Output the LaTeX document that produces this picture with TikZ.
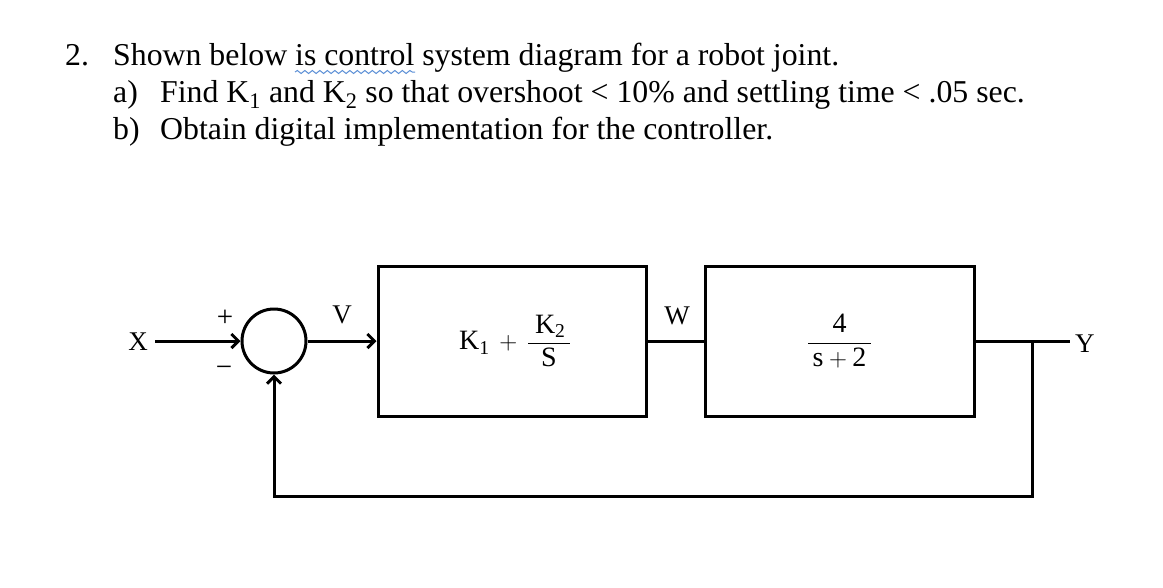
\documentclass[tikz,border=0pt]{standalone}
\usepackage{amsmath}
\usepackage{fontspec}
\setmainfont{Liberation Serif}
\usetikzlibrary{arrows.meta,decorations.pathmorphing}
\definecolor{squig}{HTML}{5B8FD6}
\begin{document}
\begin{tikzpicture}[x=1pt,y=-1pt,
  txt/.style={anchor=base west,inner sep=0pt,font=\fontsize{31.8}{37}\selectfont},
  lbl/.style={inner sep=0pt,font=\fontsize{27}{32}\selectfont},
  wire/.style={line width=3pt},
  arr/.style={wire,-{Straight Barb[length=7pt,width=14pt]}},
  blockbox/.style={draw,line width=3pt,minimum width=268pt,minimum height=150pt,inner sep=0pt,font=\fontsize{28}{33}\selectfont},
  sumnode/.style={draw,circle,line width=3pt,minimum size=64pt,inner sep=0pt}]
\path[use as bounding box,fill=white] (0,0) rectangle (1163,587);
% text
\node[txt] (n2) at (65,65) {2.};
\node[txt] (l1) at (113,65) {Shown below is control system diagram for a robot joint.};
\node[txt] (la) at (113,102) {a)};
\node[txt] (l2) at (160,102) {Find K\textsubscript{1} and K\textsubscript{2} so that overshoot < 10\% and settling time < .05 sec.};
\node[txt] (lb) at (113,139) {b)};
\node[txt] (l3) at (160,139) {Obtain digital implementation for the controller.};
\coordinate (sq1) at (295,72);
\coordinate (sq2) at (415,72);
\draw[squig,line width=1pt,decorate,decoration={snake,amplitude=1.5pt,segment length=7.5pt}] (sq1) -- (sq2);
% diagram
\node[sumnode] (sum) at (274,341) {};
\node[blockbox] (b1) at (512,341) {\hspace*{6pt}$\text{K}_{\text{1}}\,+\,\dfrac{\;\text{K}_{\text{2}}\,}{\text{S}}$};
\node[blockbox,minimum width=269pt] (b2) at (839.5,341) {$\dfrac{\text{4}}{\,\text{s}+\text{2}\,}$};
\node[lbl,anchor=east] (X) at (148,342) {X};
\node[lbl,anchor=west] (Y) at (1075,344) {Y};
\node[lbl] (V) at (342,315) {V};
\node[lbl] (W) at (677,316) {W};
\node[lbl,font=\fontsize{29}{32}\selectfont] (plus) at (225,318) {+};
\node[lbl,font=\fontsize{29}{32}\selectfont] (minus) at (224,371) {−};
\coordinate (xs) at (155,341);
\coordinate (ye) at (1070,341);
\coordinate (br) at (1032,341);
\coordinate (fb) at (1032,496);
\draw[arr] (xs) -- (sum.west);
\draw[arr] (sum) -- (b1);
\draw[wire] (b1) -- (b2);
\draw[wire] (b2.east) -- (ye);
\draw[arr] (br) -- (fb) -| (sum.south);
\end{tikzpicture}
\end{document}
